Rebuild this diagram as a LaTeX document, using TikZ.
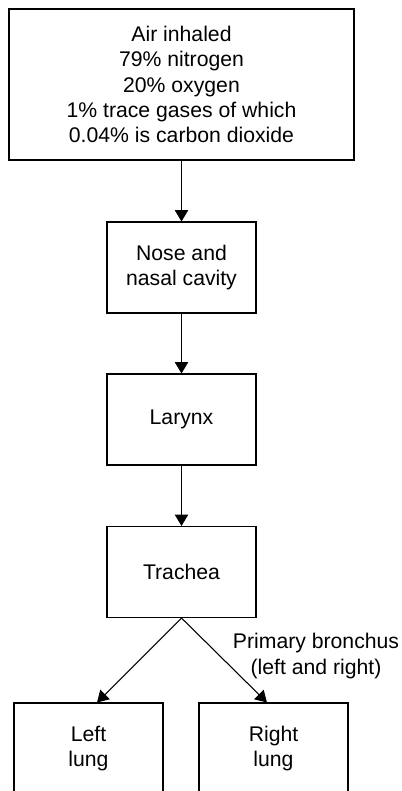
\documentclass[tikz,border=0pt]{standalone}
\usepackage{fontspec}
\setmainfont{Liberation Sans}
\usetikzlibrary{arrows.meta,positioning,calc}

\begin{document}
\begin{tikzpicture}[x=0.75pt, y=-0.75pt,
        every node/.style={font=\fontsize{15.9}{18.9}\selectfont},
        organ/.style={draw, line width=0.8pt, align=center, inner sep=0pt,
              minimum width=111.75pt, minimum height=68.25pt},
        flow/.style={-{Triangle[length=8.5pt, width=10pt]}, line width=0.8pt}]
        \useasboundingbox (0,0) rectangle (402,791);
        \node[organ, minimum width=258.75pt, minimum height=113.25pt] (air) at (181.5,84.5)
              {Air inhaled\\79\% nitrogen\\20\% oxygen\\1\% trace gases of which\\0.04\% is carbon dioxide};
        \node[organ] (nose) at (181.5,267.5) {Nose and\\nasal cavity};
        \node[organ] (larynx) at (181.5,419.5) {Larynx};
        \node[organ] (trachea) at (181.5,572) {Trachea};
        \node[organ] (leftlung) at (88.5,748.5) {Left\\lung};
        \node[organ] (rightlung) at (273.5,748.5) {Right\\lung};
        \draw[flow] (air) -- (nose);
        \draw[flow] (nose) -- (larynx);
        \draw[flow] (larynx) -- (trachea);
        \draw[flow] (trachea.south) -- ([xshift=6.4pt]leftlung.north);
        \draw[flow] (trachea.south) -- ([xshift=-4.9pt]rightlung.north);
        \node[align=center] (bronchus) at (316,656) {Primary bronchus\\(left and right)};
    \end{tikzpicture}
\end{document}
